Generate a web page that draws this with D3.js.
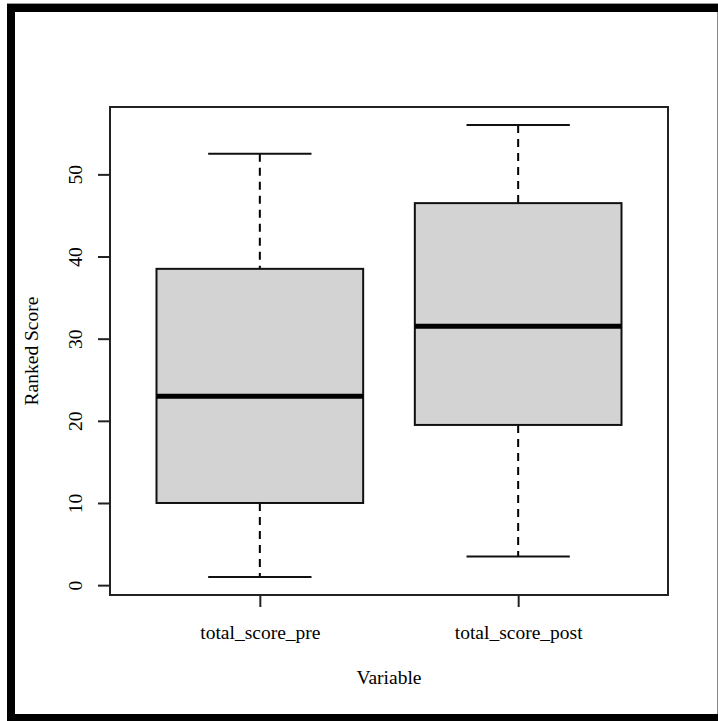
<!DOCTYPE html>
<html><head><meta charset="utf-8">
<script src="https://cdn.jsdelivr.net/npm/d3@7"></script>
<style>body{margin:0;background:#fff}svg{display:block}
svg text{font-family:"Liberation Serif","Times New Roman",Times,serif !important;}</style>
</head><body>
<svg id="c" width="718" height="721"></svg>
<script>
const categories = ["total_score_pre", "total_score_post"];
const mins = [1, 3.5];
const q1s = [10, 19.5];
const medians = [23, 31.5];
const q3s = [38.5, 46.5];
const maxs = [52.5, 56];
const yTicks = [0, 10, 20, 30, 40, 50];
const xTitle = "Variable";
const yTitle = "Ranked Score";

const svg = d3.select("#c");
const fs = 19.5;
svg.append("rect").attr("x",0).attr("y",0).attr("width",718).attr("height",721).attr("fill","#fff");
svg.append("line").attr("x1",717.5).attr("x2",717.5).attr("y1",4).attr("y2",714).attr("stroke","#888").attr("stroke-width",1);
svg.append("line").attr("x1",7).attr("x2",718).attr("y1",3.5).attr("y2",3.5).attr("stroke","#999").attr("stroke-width",1);
svg.append("rect").attr("x",7).attr("y",4).attr("width",711).attr("height",8).attr("fill","#000");
svg.append("rect").attr("x",7).attr("y",4).attr("width",8).attr("height",717).attr("fill","#000");
svg.append("rect").attr("x",7).attr("y",714).attr("width",711).attr("height",7).attr("fill","#000");

const L=110, R=668, T=107, B=595;
const y = d3.scaleLinear().domain([-1.2, 58.2]).range([B, T]);
const x = d3.scaleLinear().domain([0.42, 2.58]).range([L, R]);

const g = svg.append("g");
categories.forEach((c,i)=>{
  const cx = x(i+1), hw = x(0.4)-x(0), sw = x(0.2)-x(0);
  g.append("line").attr("x1",cx).attr("x2",cx).attr("y1",y(maxs[i])).attr("y2",y(q3s[i]))
    .attr("stroke","#000").attr("stroke-width",2).attr("stroke-dasharray","8,6");
  g.append("line").attr("x1",cx).attr("x2",cx).attr("y1",y(q1s[i])).attr("y2",y(mins[i]))
    .attr("stroke","#000").attr("stroke-width",2).attr("stroke-dasharray","8,6");
  g.append("line").attr("x1",cx-sw).attr("x2",cx+sw).attr("y1",y(maxs[i])).attr("y2",y(maxs[i]))
    .attr("stroke","#111").attr("stroke-width",2);
  g.append("line").attr("x1",cx-sw).attr("x2",cx+sw).attr("y1",y(mins[i])).attr("y2",y(mins[i]))
    .attr("stroke","#111").attr("stroke-width",2);
  g.append("rect").attr("x",cx-hw).attr("y",y(q3s[i])).attr("width",2*hw).attr("height",y(q1s[i])-y(q3s[i]))
    .attr("fill","#d3d3d3").attr("stroke","#111").attr("stroke-width",2);
  g.append("line").attr("x1",cx-hw).attr("x2",cx+hw).attr("y1",y(medians[i])).attr("y2",y(medians[i]))
    .attr("stroke","#000").attr("stroke-width",5);
});

svg.append("rect").attr("x",L).attr("y",T).attr("width",R-L).attr("height",B-T)
  .attr("fill","none").attr("stroke","#222").attr("stroke-width",2);

const yAxis = svg.append("g").attr("transform",`translate(${L},0)`)
  .call(d3.axisLeft(y).tickValues(yTicks).tickSize(12).tickFormat(d3.format("d")));
yAxis.select(".domain").attr("d",`M0,${y(0)}V${y(50)}`).attr("stroke","#222").attr("stroke-width",2);
yAxis.selectAll(".tick line").attr("stroke","#222").attr("stroke-width",2);
yAxis.selectAll(".tick text").attr("font-size",fs).attr("fill","#000")
  .attr("x",0).attr("y",0).attr("dx",0).attr("dy",0).attr("text-anchor","middle")
  .attr("transform","translate(-28,0) rotate(-90)");

const xAxis = svg.append("g").attr("transform",`translate(0,${B})`)
  .call(d3.axisBottom(x).tickValues([1,2]).tickSize(12).tickFormat((d)=>categories[d-1]));
xAxis.select(".domain").attr("d",`M${x(1)},0H${x(2)}`).attr("stroke","#222").attr("stroke-width",2);
xAxis.selectAll(".tick line").attr("stroke","#222").attr("stroke-width",2);
xAxis.selectAll(".tick text").attr("font-size",fs).attr("fill","#000").attr("y",44).attr("dy",0);

svg.append("text").attr("x",(L+R)/2).attr("y",684).attr("text-anchor","middle")
  .attr("font-size",fs).attr("fill","#000").text(xTitle);
svg.append("text").attr("transform",`translate(38,${(T+B)/2}) rotate(-90)`).attr("text-anchor","middle")
  .attr("font-size",fs).attr("fill","#000").text(yTitle);
</script>
</body></html>
